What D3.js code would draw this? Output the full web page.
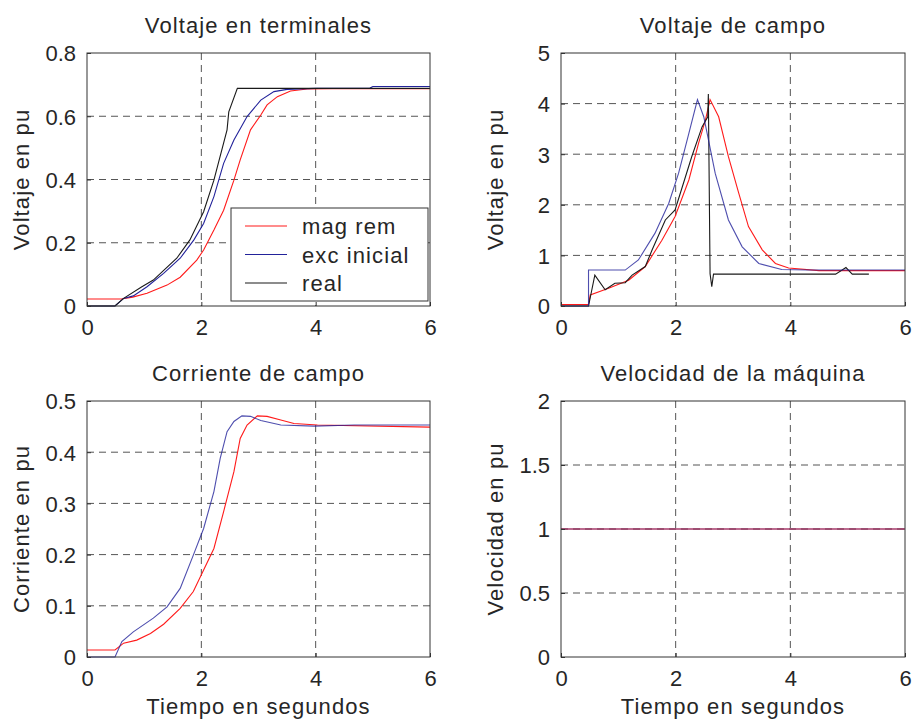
<!DOCTYPE html>
<html>
<head>
<meta charset="utf-8">
<script src="https://cdn.jsdelivr.net/npm/d3@7"></script>
<style>
  body { margin: 0; background: #fff; }
  text { font-family: "Liberation Sans", Arial, sans-serif; fill: #262626; }
</style>
</head>
<body>
<script>
// time axis shared by all panels
var timeTicks = [0, 2, 4, 6];

// --- Voltaje en terminales ---
var termRemT = [0, 0.6, 0.8, 1.05, 1.4, 1.63, 1.92, 2.04, 2.22, 2.39, 2.57, 2.68, 2.86, 3.04, 3.15, 3.33, 3.56, 3.85, 4.3, 6];
var termRemV = [0.022, 0.022, 0.028, 0.040, 0.066, 0.091, 0.145, 0.177, 0.240, 0.303, 0.398, 0.462, 0.557, 0.604, 0.636, 0.662, 0.680, 0.686, 0.687, 0.687];
var termExcT = [0, 0.49, 0.64, 0.81, 1.05, 1.34, 1.63, 1.87, 2.04, 2.22, 2.39, 2.57, 2.80, 3.04, 3.27, 3.50, 4.0, 4.95, 5.0, 6];
var termExcV = [0, 0, 0.024, 0.032, 0.061, 0.103, 0.151, 0.209, 0.261, 0.346, 0.451, 0.525, 0.599, 0.651, 0.678, 0.685, 0.688, 0.689, 0.694, 0.694];
var termRealT = [0, 0.49, 0.64, 0.96, 1.16, 1.57, 1.80, 2.04, 2.22, 2.45, 2.48, 2.63, 6];
var termRealV = [0, 0, 0.024, 0.061, 0.082, 0.151, 0.209, 0.298, 0.398, 0.557, 0.614, 0.688, 0.688];
var termTicks = [0, 0.2, 0.4, 0.6, 0.8];

// --- Voltaje de campo ---
var campRemT = [0, 0.48, 0.51, 0.83, 1.18, 1.47, 1.76, 1.99, 2.23, 2.40, 2.52, 2.60, 2.75, 2.92, 3.10, 3.27, 3.51, 3.74, 3.97, 4.5, 6];
var campRemV = [0.03, 0.03, 0.22, 0.35, 0.51, 0.78, 1.30, 1.77, 2.49, 3.22, 3.68, 4.08, 3.74, 2.95, 2.23, 1.57, 1.11, 0.84, 0.75, 0.70, 0.70];
var campExcT = [0, 0.48, 0.48, 1.12, 1.35, 1.64, 1.88, 2.05, 2.23, 2.38, 2.49, 2.69, 2.92, 3.16, 3.45, 3.85, 4.3, 6];
var campExcV = [0, 0, 0.71, 0.71, 0.91, 1.44, 2.03, 2.62, 3.41, 4.08, 3.74, 2.62, 1.70, 1.17, 0.84, 0.72, 0.71, 0.71];
var campRealT = [0, 0.48, 0.59, 0.77, 0.94, 1.12, 1.24, 1.47, 1.59, 1.82, 1.99, 2.28, 2.46, 2.56, 2.57, 2.60, 2.63, 2.66, 4.79, 4.97, 5.08, 5.37];
var campRealV = [0, 0, 0.61, 0.32, 0.45, 0.46, 0.61, 0.78, 1.11, 1.70, 1.90, 2.95, 3.54, 3.74, 4.19, 0.64, 0.38, 0.63, 0.63, 0.76, 0.63, 0.63];
var campTicks = [0, 1, 2, 3, 4, 5];

// --- Corriente de campo ---
var corrRemT = [0, 0.49, 0.64, 0.87, 1.11, 1.34, 1.63, 1.86, 2.04, 2.22, 2.39, 2.57, 2.68, 2.80, 2.98, 3.15, 3.39, 3.62, 4.03, 6];
var corrRemV = [0.0137, 0.0137, 0.027, 0.033, 0.046, 0.064, 0.095, 0.128, 0.170, 0.212, 0.284, 0.362, 0.427, 0.453, 0.471, 0.470, 0.463, 0.456, 0.453, 0.449];
var corrExcT = [0, 0.49, 0.61, 0.81, 1.16, 1.40, 1.63, 1.86, 2.04, 2.22, 2.33, 2.45, 2.57, 2.71, 2.86, 3.04, 3.39, 3.97, 4.68, 6];
var corrExcV = [0, 0, 0.030, 0.049, 0.076, 0.098, 0.134, 0.199, 0.251, 0.323, 0.388, 0.440, 0.460, 0.471, 0.470, 0.462, 0.453, 0.451, 0.453, 0.453];
var corrTicks = [0, 0.1, 0.2, 0.3, 0.4, 0.5];

// --- Velocidad de la maquina ---
var velT = [0, 6];
var velRemV = [1, 1];
var velExcV = [1, 1];
var velTicks = [0, 0.5, 1, 1.5, 2];

var legendNames = ["mag rem", "exc inicial", "real"];
var colRem = "#ff1a1a", colExc = "#22229a", colReal = "#1a1a1a";

function zip(t, v) { return t.map(function(d, i) { return [d, v[i]]; }); }

window.onload = function() {
  var svg = d3.select("body").append("svg")
    .attr("width", 914).attr("height", 719);

  var L = [87, 430], R = [561, 905], T = [53, 306], B = [401, 657];

  panel(svg, L, T, "Voltaje en terminales", "Voltaje en pu", null, [0, 0.8], termTicks, [
    {d: zip(termRemT, termRemV), c: colRem},
    {d: zip(termExcT, termExcV), c: colExc},
    {d: zip(termRealT, termRealV), c: colReal}
  ], true);
  panel(svg, R, T, "Voltaje de campo", "Voltaje en pu", null, [0, 5], campTicks, [
    {d: zip(campRemT, campRemV), c: colRem},
    {d: zip(campRealT, campRealV), c: colReal},
    {d: zip(campExcT, campExcV), c: colExc, o: 0.8}
  ], false);
  panel(svg, L, B, "Corriente de campo", "Corriente en pu", "Tiempo en segundos", [0, 0.5], corrTicks, [
    {d: zip(corrRemT, corrRemV), c: colRem},
    {d: zip(corrExcT, corrExcV), c: colExc, o: 0.8}
  ], false);
  panel(svg, R, B, "Velocidad de la máquina", "Velocidad en pu", "Tiempo en segundos", [0, 2], velTicks, [
    {d: zip(velT, velRemV), c: colRem},
    {d: zip(velT, velExcV), c: colExc, o: 0.6}
  ], false);
};

function panel(svg, xr, yr, title, ylab, xlab, ydom, yticks, series, legend) {
  var x = d3.scaleLinear().domain([0, 6]).range(xr);
  var y = d3.scaleLinear().domain(ydom).range([yr[1], yr[0]]);
  var g = svg.append("g");

  // grid
  g.selectAll(".gx").data(timeTicks.slice(1, -1)).enter().append("line")
    .attr("x1", function(d) { return x(d); }).attr("x2", function(d) { return x(d); })
    .attr("y1", yr[0]).attr("y2", yr[1])
    .attr("stroke", "#555").attr("stroke-dasharray", "7,5").attr("stroke-width", 1);
  g.selectAll(".gy").data(yticks.slice(1, -1)).enter().append("line")
    .attr("y1", function(d) { return y(d); }).attr("y2", function(d) { return y(d); })
    .attr("x1", xr[0]).attr("x2", xr[1])
    .attr("stroke", "#555").attr("stroke-dasharray", "7,5").attr("stroke-width", 1);

  var line = d3.line().x(function(d) { return x(d[0]); }).y(function(d) { return y(d[1]); });
  series.forEach(function(s) {
    g.append("path").attr("d", line(s.d)).attr("fill", "none")
      .attr("stroke", s.c).attr("stroke-width", 1.1).attr("stroke-opacity", s.o || 1);
  });

  // axes
  var xa = g.append("g").attr("transform", "translate(0," + yr[1] + ")")
    .call(d3.axisBottom(x).tickValues(timeTicks).tickSizeInner(-4).tickSizeOuter(0).tickPadding(13).tickFormat(d3.format("d")));
  var ya = g.append("g").attr("transform", "translate(" + xr[0] + ",0)")
    .call(d3.axisLeft(y).tickValues(yticks).tickSizeInner(-4).tickSizeOuter(0).tickPadding(11).tickFormat(function(d) { return String(d); }));
  [xa, ya].forEach(function(a) {
    a.select(".domain").remove();
    a.selectAll("line").attr("stroke", "#333");
    a.selectAll("text").attr("font-size", 22).attr("font-family", "Liberation Sans, Arial, sans-serif").attr("fill", "#262626");
  });
  ya.selectAll("text").attr("dy", "0.36em");
  xa.selectAll("text").attr("dy", "0.72em");

  g.append("rect").attr("x", xr[0]).attr("y", yr[0])
    .attr("width", xr[1] - xr[0]).attr("height", yr[1] - yr[0])
    .attr("fill", "none").attr("stroke", "#333").attr("stroke-width", 1);

  g.append("text").attr("x", (xr[0] + xr[1]) / 2).attr("y", yr[0] - 20)
    .attr("text-anchor", "middle").attr("font-size", 22).attr("letter-spacing", 1.1).text(title);
  g.append("text")
    .attr("transform", "translate(" + (xr[0] - 58) + "," + ((yr[0] + yr[1]) / 2) + ") rotate(-90)")
    .attr("text-anchor", "middle").attr("font-size", 22).attr("letter-spacing", 1.1).text(ylab);
  if (xlab) {
    g.append("text").attr("x", (xr[0] + xr[1]) / 2).attr("y", yr[1] + 57)
      .attr("text-anchor", "middle").attr("font-size", 22).attr("letter-spacing", 1.1).text(xlab);
  }

  if (legend) {
    var lg = g.append("g");
    lg.append("rect").attr("x", 231).attr("y", 208).attr("width", 197).attr("height", 93)
      .attr("fill", "#fff").attr("stroke", "#333").attr("stroke-width", 1);
    var cols = [colRem, colExc, colReal];
    legendNames.forEach(function(n, i) {
      var cy = 226 + i * 28.5;
      lg.append("line").attr("x1", 245).attr("x2", 287).attr("y1", cy).attr("y2", cy)
        .attr("stroke", cols[i]).attr("stroke-width", 1.1);
      lg.append("text").attr("x", 302).attr("y", cy + 8).attr("font-size", 22)
        .attr("letter-spacing", 1.1).text(n);
    });
  }
}
</script>
</body>
</html>
